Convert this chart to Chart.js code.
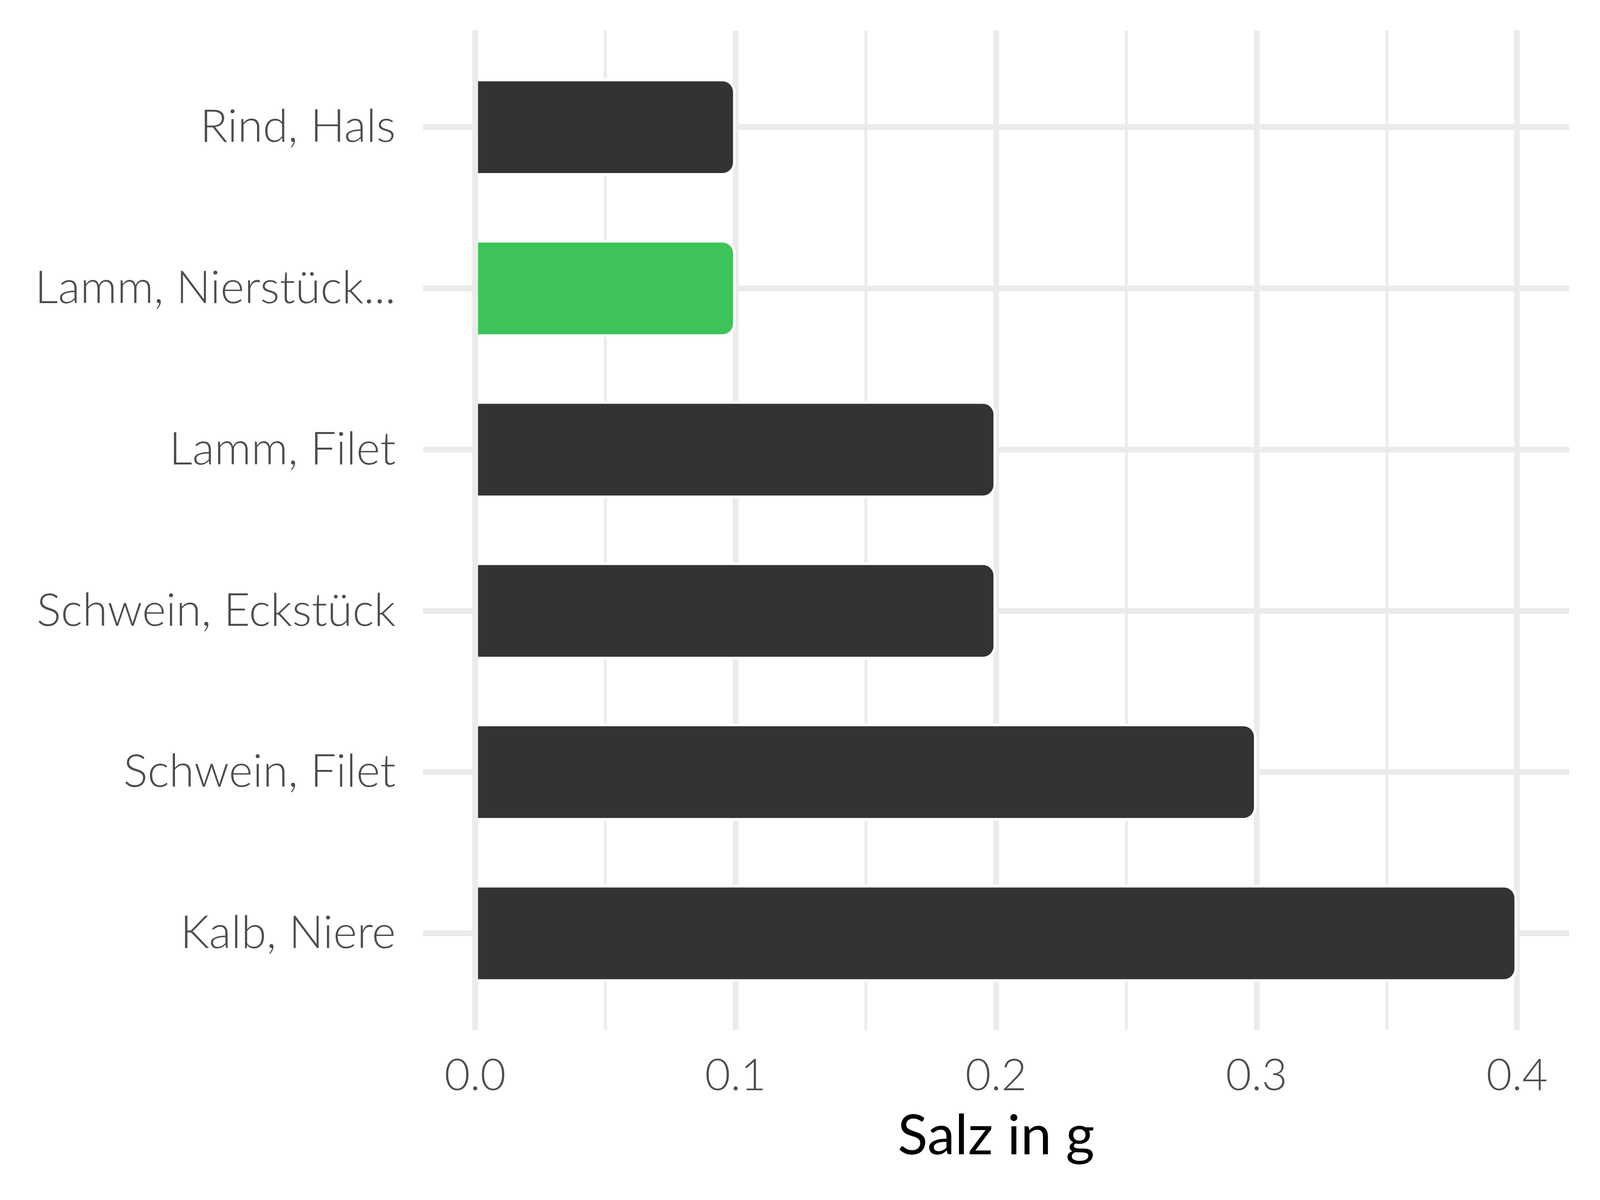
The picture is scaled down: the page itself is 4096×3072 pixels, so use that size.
<!DOCTYPE html>
<html>
<head>
<meta charset="utf-8">
<script src="https://cdn.jsdelivr.net/npm/chart.js@4.4.1/dist/chart.umd.min.js"></script>
<style>
  html, body { margin: 0; padding: 0; background: #ffffff; }
  #wrap { width: 4096px; height: 3072px; position: relative; }
</style>
</head>
<body>
<div id="wrap"><canvas id="c"></canvas></div>
<script>
// ---- data ----
const categories = ["Rind, Hals", "Lamm, Nierstück...", "Lamm, Filet", "Schwein, Eckstück", "Schwein, Filet", "Kalb, Niere"];
const values = [0.1, 0.1, 0.2, 0.2, 0.3, 0.4];
const highlighted = [false, true, false, false, false, false];
const xTickValues = [0, 0.05, 0.1, 0.15, 0.2, 0.25, 0.3, 0.35, 0.4];
const xTickLabels = ["0.0", "", "0.1", "", "0.2", "", "0.3", "", "0.4"];
const axisTitle = "Salz in g";

// ---- style ----
const DARK = "#333333";
const GREEN = "#3EC35A";
const GRID = "#EBEBEB";
const TICK_COLOR = "#4D4D4D";
const Y_TICK_FONT = { family: "Lato", weight: 300, size: 117, lineHeight: 1 };
const X_TICK_FONT = { family: "Lato", weight: 300, size: 113, lineHeight: 1 };
const TITLE_FONT = { family: "Lato", weight: 400, size: 142, lineHeight: 1 };

const points = values.map((v, i) => ({ x: v, y: i }));

const ctx = document.getElementById("c").getContext("2d");
new Chart(ctx, {
  type: "bar",
  data: {
    datasets: [{
      data: points,
      backgroundColor: highlighted.map(h => h ? GREEN : DARK),
      borderColor: "#ffffff",
      borderWidth: 7,
      borderSkipped: "start",
      borderRadius: 34,
      barThickness: 248
    }]
  },
  options: {
    indexAxis: "y",
    responsive: true,
    maintainAspectRatio: false,
    devicePixelRatio: 1,
    animation: false,
    layout: { padding: { left: 0, top: 78, right: 79, bottom: 0 } },
    plugins: { legend: { display: false }, tooltip: { enabled: false } },
    scales: {
      x: {
        type: "linear",
        position: "bottom",
        min: -0.02,
        max: 0.42,
        offset: false,
        afterBuildTicks: s => { s.ticks = xTickValues.map(v => ({ value: v })); },
        afterFit: s => { s.height = 435; s.paddingLeft = 0; s.paddingRight = 0; },
        ticks: {
          autoSkip: false,
          maxRotation: 0,
          padding: 61,
          color: TICK_COLOR,
          font: X_TICK_FONT,
          callback: (v, i) => xTickLabels[i]
        },
        grid: {
          offset: false,
          color: GRID,
          lineWidth: c => (c.index % 2 === 0 ? 14.5 : 7.25),
          drawTicks: false
        },
        border: { display: false },
        title: {
          display: true,
          text: axisTitle,
          color: "#000000",
          font: TITLE_FONT,
          padding: { top: 0, bottom: 92 }
        }
      },
      y: {
        type: "linear",
        position: "left",
        reverse: true,
        min: -0.6,
        max: 5.6,
        offset: false,
        afterBuildTicks: s => { s.ticks = categories.map((c, i) => ({ value: i })); },
        afterFit: s => { s.width = 1083; s.paddingTop = 0; s.paddingBottom = 0; },
        ticks: {
          autoSkip: false,
          padding: 70,
          color: TICK_COLOR,
          font: Y_TICK_FONT,
          callback: (v) => categories[v]
        },
        grid: {
          offset: false,
          color: GRID,
          lineWidth: 14.5,
          drawTicks: false
        },
        border: { display: false }
      }
    }
  }
});
</script>
</body>
</html>
